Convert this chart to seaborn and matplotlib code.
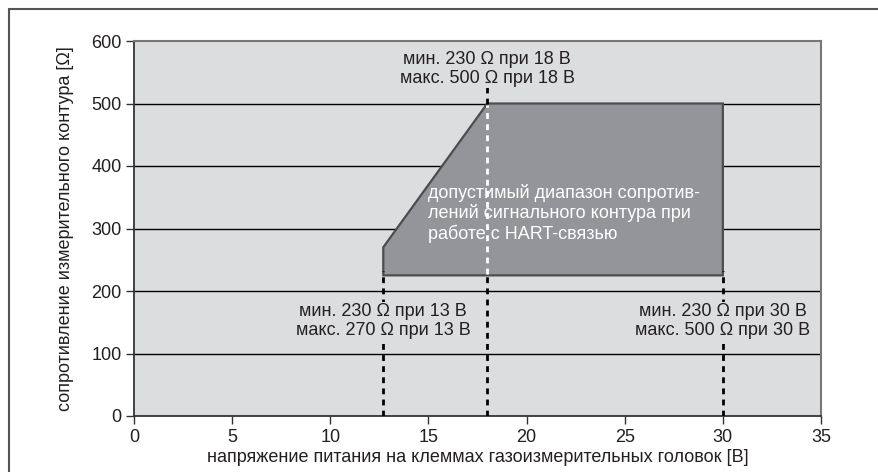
import matplotlib
matplotlib.use("Agg")
import matplotlib.pyplot as plt
import seaborn as sns
import pandas as pd
from matplotlib.lines import Line2D

# ---- data ----
region_v = [12.7, 18.0, 30.0, 30.0, 12.7]
region_r = [270, 500, 500, 225, 225]

marker_v = [12.7, 18.0, 30.0]
marker_top = [232, 527, 232]       # top of each dashed guide line
region_bottom = 225
region_top = 500

label_texts = ["мин. 230 Ω при 13 В\nмакс. 270 Ω при 13 В",
               "мин. 230 Ω при 18 В\nмакс. 500 Ω при 18 В",
               "мин. 230 Ω при 30 В\nмакс. 500 Ω при 30 В"]
label_y = [152, 555, 152]

region_text = "допустимый диапазон сопротив-\nлений сигнального контура при\nработе с HART-связью"
region_text_pos = (15.0, 324)

x_ticks = [0, 5, 10, 15, 20, 25, 30, 35]
y_ticks = [0, 100, 200, 300, 400, 500, 600]
x_label = "напряжение питания на клеммах газоизмерительных головок [В]"
y_label = "сопротивление измерительного контура [Ω]"

# ---- style ----
sns.set_theme(style="white")
plt.rcParams["font.family"] = ["Liberation Sans", "DejaVu Sans"]
TXT = "#231f20"
BG = "#dcdddf"
FILL = "#939598"

fig = plt.figure(figsize=(8.79, 4.72), dpi=100)
ax = fig.add_axes([134 / 879, 1 - 416 / 472, (821 - 134) / 879, (416 - 41) / 472])
ax.set_facecolor(BG)

# outer frame (only left & top visible)
fig.add_artist(Line2D([9 / 879, 1.0], [1 - 9 / 472, 1 - 9 / 472], transform=fig.transFigure,
                      color="#555555", lw=1.5))
fig.add_artist(Line2D([9 / 879, 9 / 879], [1 - 9 / 472, 0.0], transform=fig.transFigure,
                      color="#555555", lw=1.5))

# grid
for yv in y_ticks[1:-1]:
    ax.axhline(yv, color="black", lw=1.0, zorder=1)

# allowed region polygon
ax.fill(region_v, region_r, facecolor=FILL, edgecolor="#4d4d4d", lw=1.6, zorder=2)

# dashed guides (black outside region, white inside)
dash = (2.1, 1.9)
LW = 2.0
segs = []
for i, (v, top) in enumerate(zip(marker_v, marker_top)):
    segs.append(pd.DataFrame({"v": [v, v], "r": [0, min(top, region_bottom + 7)], "seg": f"b{i}"}))
    if top > region_top:
        segs.append(pd.DataFrame({"v": [v, v], "r": [region_top, top], "seg": f"t{i}"}))
df_black = pd.concat(segs, ignore_index=True)
for name, sub in df_black.groupby("seg"):
    sns.lineplot(data=sub, x="v", y="r", ax=ax, color="black", lw=LW,
                 estimator=None, sort=False, zorder=3).lines[-1].set_dashes(dash)
df_white = pd.DataFrame({"v": [marker_v[1], marker_v[1]], "r": [region_bottom + 3, region_top - 3]})
sns.lineplot(data=df_white, x="v", y="r", ax=ax, color="white", lw=LW,
             estimator=None, sort=False, zorder=3).lines[-1].set_dashes(dash)

# annotations
for v, y, t in zip(marker_v, label_y, label_texts):
    ax.text(v, y, t, ha="center", va="center", fontsize=13, color=TXT, linespacing=1.15,
            zorder=4, bbox=dict(facecolor=BG, edgecolor="none", pad=0.5))

ax.text(region_text_pos[0], region_text_pos[1], region_text, ha="left", va="center",
        fontsize=13, color="white", linespacing=1.15, zorder=4)

# axes
ax.set_xlim(0, 35)
ax.set_ylim(0, 600)
ax.set_xticks(x_ticks)
ax.set_yticks(y_ticks)
ax.set_xlabel(x_label, fontsize=13, color=TXT)
ax.set_ylabel(y_label, fontsize=13, color=TXT)
ax.xaxis.set_label_coords(0.5, -0.112)
ax.xaxis.label.set_va("center")
ax.yaxis.set_label_coords(-0.099, 0.5)
ax.yaxis.label.set_va("center")
ax.tick_params(axis="both", direction="out", length=6, width=1, color="#333333",
               labelsize=13, labelcolor=TXT, pad=3)
ax.tick_params(axis="x", bottom=True)
ax.tick_params(axis="y", left=True)
for side in ["left", "bottom"]:
    ax.spines[side].set_color("#333333")
    ax.spines[side].set_linewidth(1.3)
for side in ["top", "right"]:
    ax.spines[side].set_color("#777777")
    ax.spines[side].set_linewidth(1.5)

fig.savefig("out.png", dpi=100)
